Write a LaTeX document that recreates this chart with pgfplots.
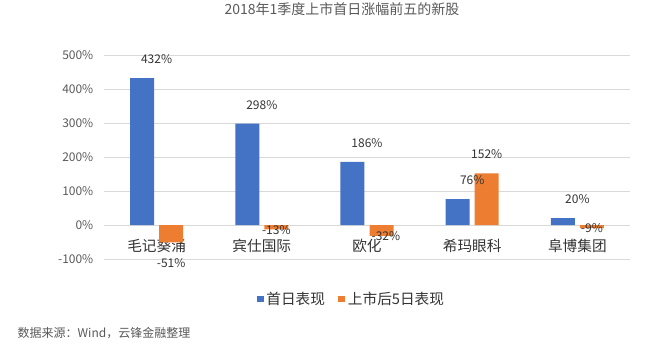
\documentclass[border=0pt]{standalone}
\usepackage{pgfplots}
\pgfplotsset{compat=1.18}
\usepackage{fontspec}
\setmainfont{Noto Sans CJK SC}
\definecolor{cblue}{HTML}{4472C4}
\definecolor{corange}{HTML}{ED7D31}
\definecolor{tgray}{HTML}{595959}
\definecolor{dgray}{HTML}{333333}
\definecolor{gridc}{HTML}{D9D9D9}
\begin{document}
\begin{tikzpicture}
\begin{axis}[
  at={(0pt,0pt)}, anchor=south west,
  scale only axis, width=394.5pt, height=153pt,
  xmin=-0.5, xmax=4.5, ymin=-100, ymax=500,
  ytick={-100,0,100,200,300,400,500},
  xtick={0,1,2,3,4},
  xticklabels={毛记葵涌,宾仕国际,欧化,希玛眼科,阜博集团},
  ymajorgrids, grid style={gridc, line width=0.75pt},
  axis line style={draw=none},
  major tick length=0pt,
  yticklabel={\pgfmathprintnumber{\tick}\%},
  /pgf/number format/assume math mode=true,
  yticklabel style={font=\fontsize{9}{10}\selectfont, text=tgray, xshift=-4.5pt},
  xticklabel style={anchor=center, yshift=9.75pt, font=\fontsize{11}{12}\selectfont, text=dgray},
  clip=false,
  title={2018年1季度上市首日涨幅前五的新股},
  title style={at={(0.4525,1.186)}, anchor=center, font=\fontsize{10.5}{12}\selectfont, text=tgray},
  legend style={at={(0.471,-0.196)}, anchor=center, draw=none, legend columns=2,
    font=\fontsize{11}{12}\selectfont, text=dgray,
    /tikz/every even column/.append style={column sep=8pt}},
]
\addplot[ybar, bar width=0.228, bar shift=-0.138, fill=cblue, draw=none,
  legend image code/.code={\fill[cblue] (0pt,-2.6pt) rectangle (5.2pt,2.6pt);},
  nodes near coords={\pgfmathprintnumber{\pgfplotspointmeta}\%},
  nodes near coords style={anchor=center, yshift=14.25pt, font=\fontsize{9}{10}\selectfont, text=dgray}]
  coordinates {(0,432) (1,298) (2,186) (3,76) (4,20)};
\addplot[ybar, bar width=0.228, bar shift=0.138, fill=corange, draw=none,
  legend image code/.code={\fill[corange] (0pt,-2.6pt) rectangle (5.2pt,2.6pt);}]
  coordinates {(0,-51) (1,-13) (2,-32) (3,152) (4,-9)};
\addplot[draw=none, forget plot, nodes near coords, point meta=explicit symbolic,
  nodes near coords style={anchor=center, font=\fontsize{9}{10}\selectfont, text=dgray}]
  coordinates {(0.138,-111) [-51\%] (1.138,-15) [-13\%] (2.18,-32) [-32\%] (3.138,208) [152\%] (4.138,-9) [-9\%]};
\legend{首日表现,上市后5日表现}
\end{axis}
\pgfresetboundingbox
\useasboundingbox (-78pt,-73.5pt) rectangle (417pt,194.25pt);
\node[anchor=west, font=\fontsize{9}{10}\selectfont, text=tgray] at (-68.25pt,-55.5pt) {数据来源：Wind，云锋金融整理};
\end{tikzpicture}
\end{document}
